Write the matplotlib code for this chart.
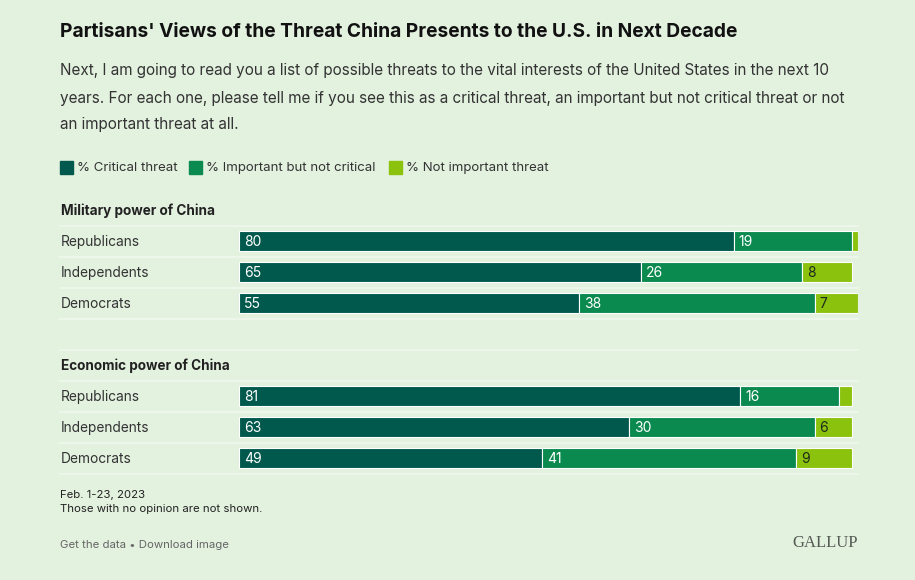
import matplotlib
matplotlib.use("Agg")
import matplotlib.pyplot as plt
import numpy as np

plt.rcParams['font.family'] = ['Inter', 'DejaVu Sans']

# data
groups = ["Military power of China", "Economic power of China"]
parties = ["Republicans", "Independents", "Democrats"]
series = ["% Critical threat", "% Important but not critical", "% Not important threat"]
critical = [[80, 65, 55], [81, 63, 49]]
important = [[19, 26, 38], [16, 30, 41]]
not_important = [[1, 8, 7], [2, 6, 9]]
show_label_low = [[False, True, True], [False, True, True]]

colors = ["#00594c", "#0a8a4f", "#8bc20e"]
txt_colors = ["white", "white", "#1d2a1d"]
bg = "#e3f1df"
line_c = "#eff8ed"

W, H = 915, 580
fig = plt.figure(figsize=(W / 100, H / 100), dpi=100, facecolor=bg)

def fx(px):
    return px / W

def fy(py):
    return 1 - py / H

# bar axes: x 0..100 mapped to pixels 239..858, y in pixel rows
x0, x1 = 239, 858
ax = fig.add_axes([fx(x0), 0, fx(x1 - x0), 1])
ax.set_xlim(0, 100)
ax.set_ylim(H, 0)
ax.axis("off")
ax.patch.set_alpha(0)

header_y = [210, 365]
row_gap = 31
for g, grp in enumerate(groups):
    hy = header_y[g]
    fig.text(fx(61), fy(hy + 1), grp, fontsize=9.75, fontweight="bold",
             color="#222222", va="center", ha="left")
    # separator lines
    for k in range(4):
        ly = hy + 16 + k * row_gap
        fig.add_artist(plt.Line2D([fx(60), fx(858)], [fy(ly), fy(ly)],
                                  color=line_c, lw=1.2))
    for r, party in enumerate(parties):
        cy = hy + 31 + r * row_gap
        fig.text(fx(61), fy(cy + 1), party, fontsize=9.9, color="#333333",
                 va="center", ha="left")
        vals = [critical[g][r], important[g][r], not_important[g][r]]
        left = 0
        for s, v in enumerate(vals):
            ax.barh(cy, v, left=left, height=20, color=colors[s],
                    edgecolor="white", linewidth=0.8)
            lab = show_label_low[g][r] if s == 2 else True
            if lab:
                ax.text(left + 0.75, cy + 1, str(v), color=txt_colors[s],
                        fontsize=10, va="center", ha="left")
            left += v

# line above economic group
fig.add_artist(plt.Line2D([fx(60), fx(858)], [fy(350), fy(350)],
                          color=line_c, lw=1.2))

# title and subtitle
fig.text(fx(60), fy(32), "Partisans' Views of the Threat China Presents to the U.S. in Next Decade",
         fontsize=13.8, fontweight="bold", color="#111111", va="center", ha="left")
sub = ["Next, I am going to read you a list of possible threats to the vital interests of the United States in the next 10",
       "years. For each one, please tell me if you see this as a critical threat, an important but not critical threat or not",
       "an important threat at all."]
for i, line in enumerate(sub):
    fig.text(fx(60), fy(71 + i * 27), line, fontsize=11.0, color="#333333",
             va="center", ha="left")

# legend
lx = [60, 189, 389]
for i, name in enumerate(series):
    fig.add_artist(plt.Rectangle((fx(lx[i]), fy(174)), fx(13), 13 / H,
                                 color=colors[i]))
    fig.text(fx(lx[i] + 17), fy(168), name, fontsize=9.5, color="#333333",
             va="center", ha="left")

# footer
fig.text(fx(60), fy(495), "Feb. 1-23, 2023", fontsize=8.2, color="#222222",
         va="center", ha="left")
fig.text(fx(60), fy(509), "Those with no opinion are not shown.", fontsize=8.2,
         color="#222222", va="center", ha="left")
fig.text(fx(60), fy(545), "Get the data \u2022 Download image", fontsize=8.2,
         color="#666666", va="center", ha="left")
fig.text(fx(858), fy(543), "GALLUP", fontsize=12, color="#555a55",
         family="Liberation Serif", va="center", ha="right")

plt.savefig("out.png", dpi=100, facecolor=bg)
